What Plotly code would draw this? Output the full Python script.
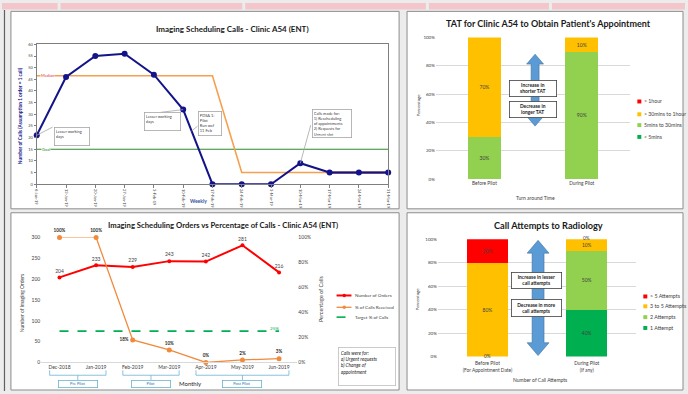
import plotly.graph_objects as go

W, H = 688, 394
FONT = "Lato"

# ---------------- data ----------------
weeks = ["6-Jan-19", "13-Jan-19", "20-Jan-19", "27-Jan-19", "3-Feb-19", "10-Feb-19",
         "17-Feb-19", "24-Feb-19", "3-Mar-19", "10-Mar-19", "17-Mar-19", "24-Mar-19", "31-Mar-19"]
weekly_calls = [21, 46, 55, 56, 47, 32, 0, 0, 0, 9, 5, 5, 5]
median_before = 46.5
median_after = 5
median_last_before = 6      # last week at the pre-pilot median
median_last_orange = 10     # orange median ends here, brown continues
goal_calls = 15

tat_groups = ["Before Pilot", "During Pilot"]
tat_under5 = [0, 0]
tat_5to30 = [30, 90]
tat_30to60 = [70, 10]
tat_over60 = [0, 0]

months = ["Dec-2018", "Jan-2019", "Feb-2019", "Mar-2019", "Apr-2019", "May-2019", "Jun-2019"]
orders = [204, 233, 229, 243, 242, 281, 216]
pct_calls = [100, 100, 18, 10, 0, 2, 3]
target_pct = 25
phases = [("Pre Pilot", 0, 1), ("Pilot", 2, 3), ("Post Pilot", 4, 6)]

att_groups = ["Before Pilot<br>(For Appointment Date)", "During Pilot<br>(If any)"]
att_1 = [0, 40]
att_2 = [0, 50]
att_3to5 = [80, 10]
att_over5 = [20, 0]

# ---------------- colours ----------------
NAVY = "#14148A"
ORANGE_MED = "#F5A04E"
BROWN = "#A0523C"
GOAL_GREEN = "#2A8C2A"
RED = "#FF0000"
AMBER = "#FFC000"
LGREEN = "#92D050"
DGREEN = "#00B050"
ARROW_BLUE = "#5B9BD5"
TXT = "#404040"


def PX(x):
    return x / W


def PY(y):
    return 1 - y / H


def dom_x(a, b):
    return [a / W, b / W]


def dom_y(top, bottom):
    return [1 - bottom / H, 1 - top / H]


fig = go.Figure()
shapes = []
ann = []

# ---------------- page furniture ----------------
for a, b in [(0, 56), (59, 242), (245, 427), (430, 551), (554, 688)]:
    shapes.append(dict(type="rect", xref="paper", yref="paper", x0=PX(a), x1=PX(b),
                       y0=PY(6.5), y1=PY(0), fillcolor="#F2C6CA", line=dict(width=0), layer="below"))
shapes.append(dict(type="line", xref="paper", yref="paper", x0=PX(2.5), x1=PX(2.5), y0=0, y1=PY(7),
                   line=dict(color="#606060", width=1.2), layer="below"))
for (a, b, t, btm) in [(9, 400, 8.5, 209), (408, 686, 8.5, 209), (9, 400, 213, 393), (408, 686, 213, 393)]:
    shapes.append(dict(type="rect", xref="paper", yref="paper", x0=PX(a), x1=PX(b), y0=PY(btm), y1=PY(t),
                       fillcolor="white", line=dict(color="#8C8C8C", width=1), layer="below"))

# ---------------- weekly calls chart ----------------
fig.add_trace(go.Scatter(x=weeks, y=[goal_calls] * len(weeks), mode="lines",
                         line=dict(color=GOAL_GREEN, width=1.2), xaxis="x", yaxis="y",
                         showlegend=False, hoverinfo="skip"))
med_x = weeks[:median_last_orange + 1]
med_y = [median_before if i <= median_last_before else median_after for i in range(len(med_x))]
fig.add_trace(go.Scatter(x=med_x, y=med_y, mode="lines", line=dict(color=ORANGE_MED, width=1.6),
                         xaxis="x", yaxis="y", showlegend=False, hoverinfo="skip"))
fig.add_trace(go.Scatter(x=weeks[median_last_orange:], y=[median_after] * len(weeks[median_last_orange:]),
                         mode="lines", line=dict(color=BROWN, width=2.2),
                         xaxis="x", yaxis="y", showlegend=False, hoverinfo="skip"))
fig.add_trace(go.Scatter(x=weeks, y=weekly_calls, mode="lines+markers",
                         line=dict(color=NAVY, width=2), marker=dict(color=NAVY, size=6),
                         cliponaxis=False, xaxis="x", yaxis="y", showlegend=False))

ann.append(dict(xref="x", yref="y", x=0.37, y=median_before, text="Median", showarrow=False,
                font=dict(size=4, color="#E03030"), bgcolor="white", borderpad=0))
ann.append(dict(xref="x", yref="y", x=0.3, y=goal_calls, text="Goal", showarrow=False,
                font=dict(size=4, color=GOAL_GREEN), bgcolor="white", borderpad=0))


def ix(px):
    return (px - 35) / ((389 - 35) / 12)


def val(py):
    return (184 - py) / (142 / 60)


tl_boxes = [
    (52, 126, 36, 19, "Lesser working<br>days"),
    (143, 111, 37, 19, "Lesser working<br>days"),
    (197, 110, 24, 25, "PDSA 1:<br>Pilot<br>Run wef<br>11 Feb"),
    (312, 108, 40, 29, "Calls made for:<br>1) Rescheduling<br>of appointments<br>2) Requests for<br>Urgent slot"),
]
for (x0, y0, w, h, t) in tl_boxes:
    ann.append(dict(xref="paper", yref="paper", x=PX(x0), y=PY(y0), xanchor="left", yanchor="top",
                    text=t, showarrow=False, align="left", valign="top",
                    font=dict(size=4, color=TXT), bgcolor="white", bordercolor="#A6A6A6",
                    borderwidth=0.8, borderpad=1, width=w - 4, height=h - 4))
leaders = [
    (0, weekly_calls[0], ix(51), val(126)),
    (5, weekly_calls[5], ix(160), val(111)),
    (ix(197), val(125), ix(191), val(130)),
    (9, weekly_calls[9], ix(311), val(124)),
]
for (a, b, c, d) in leaders:
    shapes.append(dict(type="line", xref="x", yref="y", x0=a, y0=b, x1=c, y1=d,
                       line=dict(color="#A6A6A6", width=0.8)))

ann.append(dict(xref="paper", yref="paper", x=PX(232), y=PY(26), text="<b>Imaging Scheduling Calls - Clinic A54 (ENT)</b>",
                showarrow=False, font=dict(size=8, color="#1A1A1A")))
ann.append(dict(xref="paper", yref="paper", x=PX(18), y=PY(114), text="<b>Number of Calls (Assumption 1 order = 1 call)</b>",
                textangle=-90, showarrow=False, font=dict(size=4.8, color=NAVY)))
ann.append(dict(xref="paper", yref="paper", x=PX(198), y=PY(201), text="<b>Weekly</b>",
                showarrow=False, font=dict(size=5, color="#2F4F9F")))

# ---------------- TAT stacked bars ----------------
tat_series = [("< 5mins", tat_under5, DGREEN), ("5mins to 30mins", tat_5to30, LGREEN),
              ("> 30mins to 1hour", tat_30to60, AMBER), ("> 1hour", tat_over60, RED)]
for name, vals, col in tat_series:
    fig.add_trace(go.Bar(x=tat_groups, y=vals, name=name, marker=dict(color=col, line=dict(width=0)),
                         width=0.34, text=[f"{v}%" if v else "" for v in vals], textposition="inside",
                         insidetextanchor="middle", textangle=0, textfont=dict(size=5, color=TXT),
                         xaxis="x2", yaxis="y2", showlegend=False))

ann.append(dict(xref="paper", yref="paper", x=PX(550), y=PY(21),
                text="<b>TAT for Clinic A54 to Obtain Patient's Appointment</b>",
                showarrow=False, font=dict(size=9, color="#1A1A1A")))
ann.append(dict(xref="paper", yref="paper", x=PX(419), y=PY(103), text="Percentage", textangle=-90,
                showarrow=False, font=dict(size=4.5, color=TXT)))
ann.append(dict(xref="paper", yref="paper", x=PX(537), y=PY(198), text="Turn around Time",
                showarrow=False, font=dict(size=5, color=TXT)))

# ---------------- orders vs % calls ----------------
fig.add_trace(go.Scatter(x=months, y=orders, mode="lines+markers+text", name="Number of Orders",
                         line=dict(color=RED, width=2), marker=dict(color=RED, size=4),
                         text=[str(v) for v in orders], textposition="top center",
                         textfont=dict(size=5, color=TXT), cliponaxis=False,
                         xaxis="x3", yaxis="y3", showlegend=False))
pct_pos = ["top center", "top center", "middle left", "top center", "top center", "top center", "top center"]
fig.add_trace(go.Scatter(x=months, y=pct_calls, mode="lines+markers+text", name="% of Calls Received",
                         line=dict(color="#F08A3C", width=1.3), marker=dict(color="#F08A3C", size=5),
                         text=[f"<b>{v}%</b>" for v in pct_calls], textposition=pct_pos,
                         textfont=dict(size=4.6, color="#262626"), cliponaxis=False,
                         xaxis="x3", yaxis="y4", showlegend=False))
fig.add_trace(go.Scatter(x=months, y=[target_pct] * len(months), mode="lines+text", name="Target % of Calls",
                         line=dict(color=DGREEN, width=1.8, dash="dash"),
                         text=[""] * (len(months) - 1) + [f"{target_pct}%"], textposition="top left",
                         textfont=dict(size=4.6, color=DGREEN), cliponaxis=False,
                         xaxis="x3", yaxis="y4", showlegend=False))

ann.append(dict(xref="paper", yref="paper", x=PX(223), y=PY(225),
                text="<b>Imaging Scheduling Orders vs Percentage of Calls - Clinic A54 (ENT)</b>",
                showarrow=False, font=dict(size=7.7, color="#1A1A1A")))
ann.append(dict(xref="paper", yref="paper", x=PX(21), y=PY(305), text="Number of Imaging Orders", textangle=-90,
                showarrow=False, font=dict(size=5, color=TXT)))
ann.append(dict(xref="paper", yref="paper", x=PX(322), y=PY(300), text="Percentage of Calls", textangle=-90,
                showarrow=False, font=dict(size=5.5, color=TXT)))
ann.append(dict(xref="paper", yref="paper", x=PX(190), y=PY(386), text="Monthly",
                showarrow=False, font=dict(size=6, color="#262626")))
ann.append(dict(xref="paper", yref="paper", x=PX(338), y=PY(349), xanchor="left", yanchor="top",
                text="<i>Calls were for:<br>a) Urgent requests<br>b) Change of<br>appointment</i>",
                showarrow=False, align="left", valign="top", font=dict(size=4.8, color="#262626"),
                bgcolor="white", bordercolor="#BFBFBF", borderwidth=0.8, borderpad=2, width=52, height=33))

BR_BLUE = "#6CB4D0"
for name, i0, i1 in phases:
    left, right, mid = i0 - 0.27, i1 + 0.27, (i0 + i1) / 2
    shapes.append(dict(type="path", xref="x3", yref="paper",
                       path=f"M{left},{PY(373)} L{left},{PY(378)} L{right},{PY(378)} L{right},{PY(373)}",
                       line=dict(color=BR_BLUE, width=0.8)))
    shapes.append(dict(type="line", xref="x3", yref="paper", x0=mid, x1=mid, y0=PY(378), y1=PY(383),
                       line=dict(color=BR_BLUE, width=0.8)))
    ann.append(dict(xref="x3", yref="paper", x=mid, y=PY(387), text=name, showarrow=False,
                    font=dict(size=4, color="#2E75B6"), bgcolor="white", bordercolor=BR_BLUE,
                    borderwidth=0.8, borderpad=0, width=38, height=6))

# legend (orders chart)
leg_bl = [("Number of Orders", RED, "solid", 2, 297), ("% of Calls Received", "#F08A3C", "solid", 1.3, 309),
          ("Target % of Calls", DGREEN, "dash", 1.6, 319)]
for name, col, dash, lw, y in leg_bl:
    shapes.append(dict(type="line", xref="paper", yref="paper", x0=PX(337), x1=PX(352), y0=PY(y), y1=PY(y),
                       line=dict(color=col, width=lw, dash="dash" if dash == "dash" else "solid")))
    if dash != "dash":
        shapes.append(dict(type="circle", xref="paper", yref="paper", x0=PX(343), x1=PX(346.5),
                           y0=PY(y + 1.7), y1=PY(y - 1.7), fillcolor=col, line=dict(width=0)))
    ann.append(dict(xref="paper", yref="paper", x=PX(353.5), y=PY(y), xanchor="left", text=name,
                    showarrow=False, font=dict(size=4.6, color=TXT)))

# ---------------- call attempts stacked bars ----------------
att_series = [("1 Attempt", att_1, DGREEN), ("2 Attempts", att_2, LGREEN),
              ("3 to 5 Attempts", att_3to5, AMBER), ("> 5 Attempts", att_over5, RED)]
base = [0, 0]
zero_spots = set()
for name, vals, col in att_series:
    fig.add_trace(go.Bar(x=att_groups, y=vals, name=name, marker=dict(color=col, line=dict(width=0)),
                         width=0.41, text=[f"{v}%" if v else "" for v in vals], textposition="inside",
                         insidetextanchor="middle", textangle=0, textfont=dict(size=5, color=TXT),
                         xaxis="x5", yaxis="y5", showlegend=False))
    for gi, v in enumerate(vals):
        # zero-height segments are labelled where they sit; coincident ones share a label
        if v == 0 and (gi, base[gi]) not in zero_spots:
            zero_spots.add((gi, base[gi]))
            ann.append(dict(xref="x5", yref="y5", x=gi, y=base[gi], text=f"{v}%", showarrow=False,
                            font=dict(size=4.8, color=TXT), yshift=1))
        base[gi] += v

ann.append(dict(xref="paper", yref="paper", x=PX(550), y=PY(226), text="<b>Call Attempts to Radiology</b>",
                showarrow=False, font=dict(size=9.2, color="#1A1A1A")))
ann.append(dict(xref="paper", yref="paper", x=PX(418), y=PY(300), text="Percentage", textangle=-90,
                showarrow=False, font=dict(size=4.5, color=TXT)))
ann.append(dict(xref="paper", yref="paper", x=PX(542), y=PY(383), text="Number of Call Attempts",
                showarrow=False, font=dict(size=5, color=TXT)))


# square legends for the two bar charts
def square_legend(x, items, size):
    for name, col, y in items:
        shapes.append(dict(type="rect", xref="paper", yref="paper", x0=PX(x - 2), x1=PX(x + 2),
                           y0=PY(y + 2), y1=PY(y - 2), fillcolor=col, line=dict(width=0)))
        ann.append(dict(xref="paper", yref="paper", x=PX(x + 3), y=PY(y), xanchor="left", text=name,
                        showarrow=False, font=dict(size=size, color=TXT)))


square_legend(642, [("> 1hour", RED, 100), ("> 30mins to 1hour", AMBER, 113),
                    ("5mins to 30mins", LGREEN, 124), ("< 5mins", DGREEN, 136)], 5.2)
square_legend(648, [("> 5 Attempts", RED, 298), ("3 to 5 Attempts", AMBER, 308),
                    ("2 Attempts", LGREEN, 319), ("1 Attempt", DGREEN, 330)], 5.3)


# double-headed block arrows with captions
def block_arrow(cx, top, bottom, shaft, head, head_len):
    s, h = shaft / 2, head / 2
    pts = [(cx, top), (cx + h, top + head_len), (cx + s, top + head_len), (cx + s, bottom - head_len),
           (cx + h, bottom - head_len), (cx, bottom), (cx - h, bottom - head_len), (cx - s, bottom - head_len),
           (cx - s, top + head_len), (cx - h, top + head_len)]
    path = "M" + " L".join(f"{PX(a):.5f},{PY(b):.5f}" for a, b in pts) + " Z"
    shapes.append(dict(type="path", xref="paper", yref="paper", path=path, fillcolor=ARROW_BLUE,
                       line=dict(color="#41719C", width=0.6)))


def caption_box(x0, y0, w, h, text):
    ann.append(dict(xref="paper", yref="paper", x=PX(x0 + w / 2), y=PY(y0 + h / 2), text=text,
                    showarrow=False, font=dict(size=4.9, color="#1A1A1A"), bgcolor="white",
                    bordercolor="#404040", borderwidth=0.8, borderpad=0, width=w - 2, height=h - 2))


block_arrow(537, 52, 125, 8, 17, 10)
caption_box(511, 78, 48, 17, "<b>Increase in<br>shorter TAT</b>")
caption_box(511, 100, 48, 17, "<b>Decrease in<br>longer TAT</b>")
block_arrow(540, 241, 358, 12, 22, 13)
caption_box(513, 273, 51, 17, "<b>Increase in lesser<br>call attempts</b>")
caption_box(513, 301, 51, 18, "<b>Decrease in more<br>call attempts</b>")

# every annotation is anchored on its given point unless stated otherwise
for a in ann:
    a.setdefault("xanchor", "center")
    a.setdefault("yanchor", "middle")

# ---------------- layout ----------------
tick4 = dict(size=4, color=TXT)
fig.update_layout(
    width=W, height=H, margin=dict(l=0, r=0, t=0, b=0),
    paper_bgcolor="#ECECEC", plot_bgcolor="rgba(0,0,0,0)",
    font=dict(family=FONT, color=TXT),
    barmode="stack", showlegend=False,
    xaxis=dict(domain=dom_x(35, 389), anchor="y", type="category", range=[0, 12], tickangle=90,
               tickfont=tick4, showline=True, mirror=True, linecolor="#7F7F7F", linewidth=1,
               ticks="outside", ticklen=3, tickcolor="#7F7F7F", showgrid=False, zeroline=False),
    yaxis=dict(domain=dom_y(42, 184), anchor="x", range=[0, 60], dtick=5, tickfont=tick4,
               showline=True, mirror=True, linecolor="#7F7F7F", linewidth=1, ticks="outside",
               ticklen=2, tickcolor="#7F7F7F", showgrid=False, zeroline=False),
    xaxis2=dict(domain=dom_x(437, 633), anchor="y2", type="category", range=[-0.5, 1.5],
                tickfont=dict(size=4.8, color=TXT), showline=False, showgrid=False, zeroline=False),
    yaxis2=dict(domain=dom_y(35, 179), anchor="x2", range=[0, 100], dtick=20, ticksuffix="%",
                tickfont=dict(size=4.5, color=TXT), gridcolor="#D9D9D9", gridwidth=0.8,
                showline=False, zeroline=False),
    xaxis3=dict(domain=dom_x(39.5, 297.5), anchor="y3", type="category", range=[-0.5, 6.5],
                tickfont=dict(size=5, color=TXT), showline=True, linecolor="#D9D9D9",
                showgrid=False, zeroline=False),
    yaxis3=dict(domain=dom_y(238, 365), anchor="x3", range=[0, 300], dtick=50,
                tickfont=dict(size=5, color=TXT), showgrid=False, zeroline=False, showline=False),
    yaxis4=dict(overlaying="y3", anchor="x3", side="right", range=[0, 100], dtick=20, ticksuffix="%",
                tickfont=dict(size=5, color=TXT), showgrid=False, zeroline=False, showline=False),
    xaxis5=dict(domain=dom_x(439, 639), anchor="y5", type="category", range=[-0.5, 1.5],
                tickfont=dict(size=4.8, color=TXT), showline=False, showgrid=False, zeroline=False,
                ticklabelstandoff=3),
    yaxis5=dict(domain=dom_y(240, 359), anchor="x5", range=[0, 100], dtick=20, ticksuffix="%",
                tickfont=dict(size=4.5, color=TXT), gridcolor="#D9D9D9", gridwidth=0.8,
                showline=False, zeroline=False),
    shapes=shapes, annotations=ann,
)

fig.write_html("out.html")
